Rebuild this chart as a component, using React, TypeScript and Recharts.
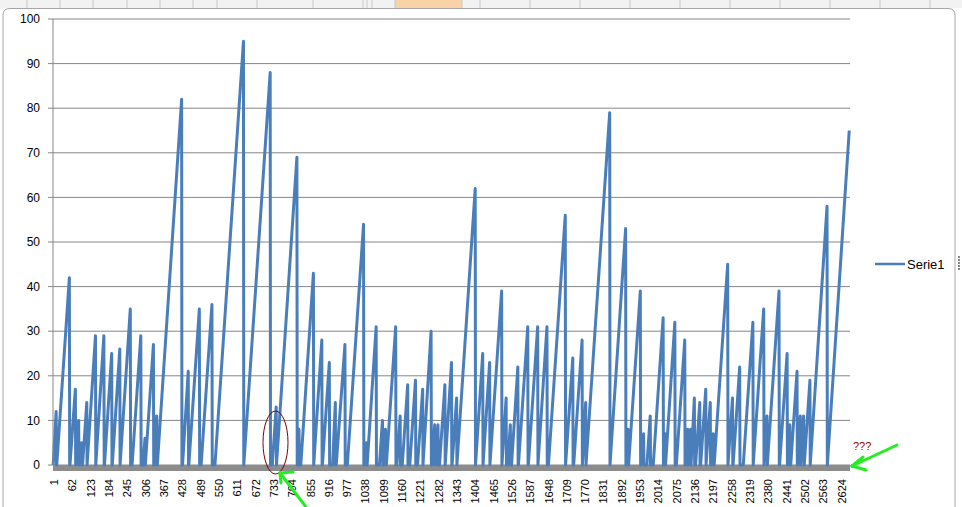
import { LineChart, Line, XAxis, YAxis, CartesianGrid, Legend, ReferenceArea } from "recharts";

// each sawtooth: where it leaves 0, where it tops out, and the top value
const rampStart = [
  1, 13, 57, 77, 91, 99, 114, 143, 172, 198, 224, 264, 300, 308,
  337, 348, 432, 453, 494, 540,
  636, 731, 745, 814, 826, 869, 898, 932, 944,
  981, 1037, 1047, 1088, 1100, 1111, 1146, 1164, 1189, 1215, 1233, 1263, 1274, 1288, 1307,
  1330, 1346, 1408, 1433, 1456, 1496, 1515, 1528, 1551, 1584, 1616,
  1651, 1708, 1735, 1764, 1776, 1856, 1910, 1918, 1960, 1979,
  2000, 2034, 2041, 2077, 2107, 2117, 2126, 2141, 2158, 2176, 2193, 2203, 2249, 2266, 2300,
  2333, 2369, 2380, 2421, 2447, 2458, 2481, 2491, 2503, 2523, 2580,
];
const rampPeakAt = [
  11, 55, 75, 86, 96, 113, 142, 170, 196, 223, 258, 293, 307, 335,
  346, 429, 451, 488, 530, 635,
  724, 744, 813, 820, 868, 896, 921, 941, 973,
  1035, 1045, 1077, 1098, 1108, 1142, 1157, 1182, 1208, 1232, 1260, 1272, 1283, 1306, 1328,
  1345, 1407, 1432, 1455, 1495, 1510, 1524, 1549, 1582, 1615, 1646,
  1707, 1732, 1763, 1775, 1855, 1908, 1916, 1957, 1968, 1990,
  2033, 2040, 2072, 2105, 2115, 2125, 2137, 2155, 2175, 2190, 2200, 2248, 2264, 2288, 2332,
  2368, 2379, 2419, 2446, 2455, 2479, 2490, 2501, 2522, 2579, 2653,
];
const rampPeak = [
  12, 42, 17, 10, 5, 14, 29, 29, 25, 26, 35, 29, 6, 27,
  11, 82, 21, 35, 36, 95,
  88, 13, 69, 8, 43, 28, 23, 14, 27,
  54, 5, 31, 10, 8, 31, 11, 18, 19, 17, 30, 9, 9, 18, 23,
  15, 62, 25, 23, 39, 15, 9, 22, 31, 31, 31,
  56, 24, 28, 14, 79, 53, 8, 39, 7, 11,
  33, 7, 32, 28, 8, 8, 15, 14, 17, 14, 7, 45, 15, 22, 32,
  35, 11, 39, 25, 9, 21, 11, 11, 19, 58, 75,
];

const xTicks = [
  1, 62, 123, 184, 245, 306, 367, 428, 489, 550, 611, 672, 733, 794, 855, 916, 977,
  1038, 1099, 1160, 1221, 1282, 1343, 1404, 1465, 1526, 1587, 1648, 1709, 1770, 1831,
  1892, 1953, 2014, 2075, 2136, 2197, 2258, 2319, 2380, 2441, 2502, 2563, 2624,
];
const yTicks = [0, 10, 20, 30, 40, 50, 60, 70, 80, 90, 100];
const lastCategory = 2655;

const data: { x: number; y: number }[] = [];
rampStart.forEach((s, k) => {
  data.push({ x: s, y: 0 });
  data.push({ x: rampPeakAt[k], y: rampPeak[k] });
  if (k < rampStart.length - 1) data.push({ x: rampPeakAt[k] + 1, y: 0 });
});

const FONT = "'Liberation Sans', Arial, sans-serif";
const BLUE = "#4a7ebb";
const GRID = "#868686";

const XTick = ({ x, y, payload }: any) => (
  <text x={x} y={y} transform={`rotate(-90 ${x} ${y})`} textAnchor="end" dy={5} fontSize={11} fill="#000" fontFamily={FONT}>
    {payload.value}
  </text>
);

const LegendBox = () => (
  <svg width={80} height={20} style={{ display: "block" }}>
    <line x1={0} y1={9} x2={30} y2={9} stroke={BLUE} strokeWidth={2.5} />
    <text x={32} y={13.5} fontSize={13} fill="#000" fontFamily={FONT}>Serie1</text>
  </svg>
);

// excel header strip, chart frame and the hand drawn marks
const Overlay = () => (
  <svg width={962} height={507} style={{ position: "absolute", left: 0, top: 0, pointerEvents: "none" }}>
    <rect x={0} y={0} width={962} height={8} fill="#f2f2f2" />
    <rect x={395} y={0} width={67} height={8} fill="#f8d3a6" />
    {[27, 60, 93, 127, 160, 193, 217, 257, 313, 363, 367, 372, 395, 462, 480, 530, 580, 630, 680, 730, 780, 830, 880, 930].map(v => (
      <line key={v} x1={v} y1={0} x2={v} y2={8} stroke="#c8c8c8" />
    ))}
    <path d="M3 520 L3 15 Q3 8.5 10 8.5 L948 8.5 Q955 8.5 955 15 L955 520" fill="none" stroke="#a6a6a6" />
    {[256, 259, 262, 265, 268].map(v => (
      <rect key={v} x={958} y={v} width={2} height={2} fill="#8a8a8a" />
    ))}
    <ellipse cx={275.5} cy={442.5} rx={12.5} ry={31.5} fill="none" stroke="#7a0000" strokeWidth={1} />
    <g stroke="#22ee22" strokeWidth={3} strokeLinecap="round" fill="none">
      <line x1={306} y1={507} x2={280} y2={473} />
      <line x1={280} y1={473} x2={293} y2={472} />
      <line x1={280} y1={473} x2={281} y2={483} />
      <line x1={897} y1={445} x2={852} y2={466} />
      <line x1={852} y1={466} x2={863} y2={457} />
      <line x1={852} y1={466} x2={866} y2={470} />
    </g>
    <text x={853} y={450} fontSize={11} fill="#8b0000" fontFamily={FONT}>???</text>
  </svg>
);

export default function App() {
  return (
    <div style={{ position: "absolute", left: 0, top: 0, width: 962, height: 507, background: "#fff", fontFamily: FONT }}>
      <LineChart width={962} height={507} data={data} margin={{ top: 19, right: 112, bottom: 0, left: 0 }}>
        <CartesianGrid vertical={false} stroke={GRID} />
        <XAxis
          type="number"
          dataKey="x"
          domain={[0.5, lastCategory + 0.5]}
          ticks={xTicks}
          interval={0}
          height={42}
          axisLine={false}
          tickLine={false}
          tickSize={6}
          tickMargin={8}
          tick={<XTick />}
        />
        <YAxis
          domain={[0, 100]}
          ticks={yTicks}
          interval={0}
          width={53}
          axisLine={{ stroke: GRID }}
          tickLine={{ stroke: GRID }}
          tickSize={5}
          tickMargin={8}
          tick={{ fill: "#000", fontSize: 12, fontFamily: FONT }}
        />
        <Legend
          layout="horizontal"
          align="center"
          verticalAlign="middle"
          content={<LegendBox />}
          wrapperStyle={{ left: 875, top: 255, width: 80, height: 20 }}
        />
        <Line
          type="linear"
          dataKey="y"
          name="Serie1"
          stroke={BLUE}
          strokeWidth={3}
          strokeLinejoin="round"
          dot={false}
          activeDot={false}
          isAnimationActive={false}
        />
        <ReferenceArea y1={-1.35} y2={0} ifOverflow="visible" fill="#8c8c8c" fillOpacity={1} stroke="none" />
      </LineChart>
      <Overlay />
    </div>
  );
}
